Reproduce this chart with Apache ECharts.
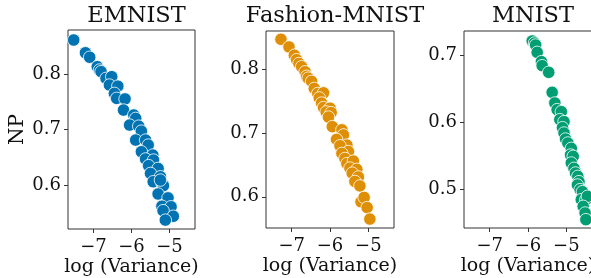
<!DOCTYPE html>
<html>
<head>
<meta charset="utf-8">
<script src="https://cdn.jsdelivr.net/npm/echarts@6/dist/echarts.min.js"></script>
<style>
  html, body { margin: 0; padding: 0; background: #fff; }
  #chart { width: 591px; height: 278px; }
</style>
</head>
<body>
<div id="chart"></div>
<script>
// panel names
const titles = ['EMNIST', 'Fashion-MNIST', 'MNIST'];
const colors = ['#0173b2', '#de8f05', '#029e73'];

// [log variance, NP]
const emnist = [
    [-7.52, 0.861], [-7.21, 0.838], [-7.10, 0.830], [-6.90, 0.813], [-6.84, 0.807],
    [-6.80, 0.804], [-6.67, 0.792], [-6.52, 0.795], [-6.58, 0.780], [-6.36, 0.778],
    [-6.45, 0.765], [-6.39, 0.756], [-6.17, 0.755], [-6.21, 0.735], [-5.94, 0.726],
    [-5.89, 0.720], [-6.05, 0.708], [-5.81, 0.706], [-5.74, 0.697], [-5.89, 0.681],
    [-5.63, 0.681], [-5.56, 0.672], [-5.74, 0.660], [-5.44, 0.654], [-5.63, 0.647],
    [-5.42, 0.645], [-5.55, 0.635], [-5.30, 0.630], [-5.50, 0.621], [-5.24, 0.615],
    [-5.43, 0.606], [-5.20, 0.604], [-5.16, 0.599], [-5.30, 0.584], [-5.04, 0.577],
    [-5.20, 0.562], [-4.96, 0.561], [-5.17, 0.554], [-4.90, 0.544], [-5.11, 0.537],
    [-5.24, 0.609]
];
const fashion = [
    [-7.28, 0.847], [-7.07, 0.835], [-6.93, 0.822], [-6.87, 0.815], [-6.81, 0.809],
    [-6.74, 0.804], [-6.65, 0.796], [-6.61, 0.789], [-6.57, 0.786], [-6.48, 0.781],
    [-6.41, 0.770], [-6.32, 0.762], [-6.17, 0.763], [-6.28, 0.755], [-6.22, 0.747],
    [-6.17, 0.740], [-6.00, 0.739], [-6.10, 0.733], [-5.97, 0.732], [-6.04, 0.725],
    [-5.94, 0.710], [-5.69, 0.705], [-5.65, 0.697], [-5.83, 0.690], [-5.56, 0.681],
    [-5.74, 0.680], [-5.52, 0.671], [-5.69, 0.668], [-5.61, 0.660], [-5.56, 0.652],
    [-5.39, 0.656], [-5.48, 0.645], [-5.30, 0.643], [-5.42, 0.637], [-5.26, 0.631],
    [-5.35, 0.624], [-5.22, 0.617], [-5.19, 0.592], [-5.11, 0.599], [-5.03, 0.583],
    [-4.96, 0.565]
];
const mnist = [
    [-5.89, 0.722], [-5.83, 0.719], [-5.80, 0.716], [-5.76, 0.705], [-5.65, 0.691],
    [-5.63, 0.685], [-5.46, 0.675], [-5.37, 0.645], [-5.30, 0.629], [-5.24, 0.619],
    [-5.13, 0.616], [-5.17, 0.604], [-5.06, 0.601], [-5.10, 0.592], [-5.06, 0.584],
    [-5.02, 0.575], [-4.96, 0.569], [-4.87, 0.561], [-4.89, 0.551], [-4.82, 0.549],
    [-4.87, 0.539], [-4.80, 0.531], [-4.76, 0.524], [-4.70, 0.519], [-4.67, 0.511],
    [-4.71, 0.506], [-4.64, 0.499], [-4.58, 0.496], [-4.61, 0.484], [-4.49, 0.484],
    [-4.45, 0.489], [-4.56, 0.474], [-4.51, 0.464], [-4.49, 0.454]
];

const xTicks = [-7, -6, -5];
const yTicks = [[0.6, 0.7, 0.8], [0.6, 0.7, 0.8], [0.5, 0.6, 0.7]];
const yRanges = [[0.521, 0.879], [0.551, 0.860], [0.4415, 0.737]];
const xRange = [-7.67, -4.33];

const font = 'DejaVu Serif';
const ink = '#111';

const grids = [
    { left: 68, top: 30, width: 127, height: 199 },
    { left: 266, top: 31, width: 128, height: 197 },
    { left: 464, top: 31, width: 128, height: 197 },
];

const fmt = (v) => (v < 0 ? '\u2212' + Math.abs(v) : String(v));

const chart = echarts.init(document.getElementById('chart'));
chart.setOption({
    animation: false,
    backgroundColor: '#fff',
    title: titles.map((t, i) => ({
        text: t,
        left: grids[i].left + grids[i].width / 2,
        textAlign: 'center',
        top: 0,
        textStyle: { fontFamily: font, fontSize: 22.5, fontWeight: 'normal', color: ink }
    })),
    grid: grids.map(g => Object.assign({
        show: true, borderColor: '#333', borderWidth: 1,
        containLabel: false, outerBoundsMode: 'none'
    }, g)),
    xAxis: grids.map((g, i) => ({
        type: 'value',
        gridIndex: i,
        min: xRange[0],
        max: xRange[1],
        name: 'log (Variance)',
        nameLocation: 'middle',
        nameGap: 29,
        nameMoveOverlap: false,
        nameTextStyle: { fontFamily: font, fontSize: 19, color: ink, verticalAlign: 'top' },
        axisLine: { show: false },
        splitLine: { show: false },
        axisTick: { show: true, length: 4, lineStyle: { color: '#333' }, customValues: xTicks },
        axisLabel: { fontFamily: font, fontSize: 18, color: ink, margin: 9, customValues: xTicks, formatter: fmt }
    })),
    yAxis: grids.map((g, i) => ({
        type: 'value',
        gridIndex: i,
        min: yRanges[i][0],
        max: yRanges[i][1],
        name: i === 0 ? 'NP' : '',
        nameLocation: 'middle',
        nameGap: 40,
        nameMoveOverlap: false,
        nameTextStyle: { fontFamily: font, fontSize: 20, color: ink },
        axisLine: { show: false },
        splitLine: { show: false },
        axisTick: { show: true, length: 4, lineStyle: { color: '#333' }, customValues: yTicks[i] },
        axisLabel: { fontFamily: font, fontSize: 18, color: ink, margin: 7, customValues: yTicks[i], formatter: v => v.toFixed(1) }
    })),
    series: [emnist, fashion, mnist].map((d, i) => ({
        type: 'scatter',
        xAxisIndex: i,
        yAxisIndex: i,
        data: d,
        symbolSize: 12.5,
        itemStyle: { color: colors[i], borderColor: '#fff', borderWidth: 0.8, opacity: 1 }
    }))
});
</script>
</body>
</html>
